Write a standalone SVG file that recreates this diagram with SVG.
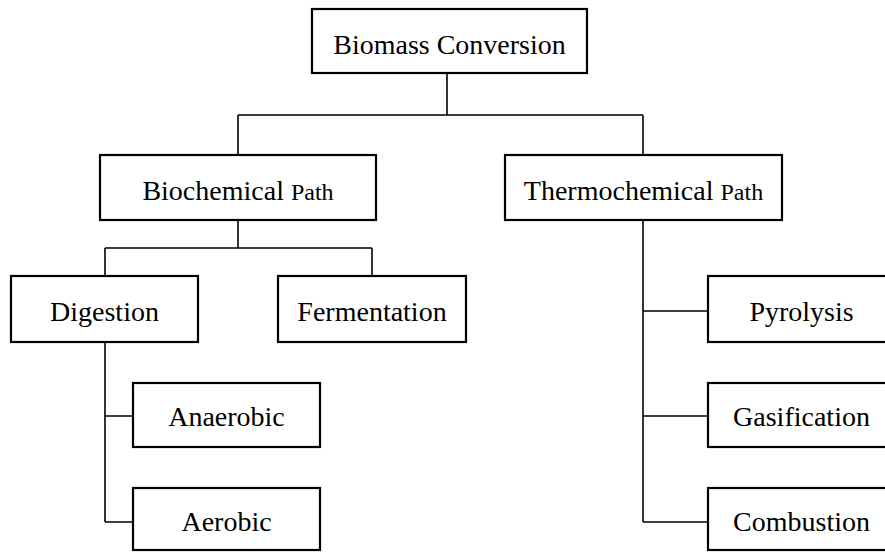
<svg xmlns="http://www.w3.org/2000/svg" width="885" height="552" viewBox="0 0 885 552">
  <style>
    .box { fill: #ffffff; stroke: #000000; stroke-width: 2.2; }
    .link { fill: none; stroke: #000000; stroke-width: 1.6; }
    .label { font-family: "Liberation Serif", "Times New Roman", serif; font-size: 28px; fill: #000000; text-anchor: middle; }
    .small { font-size: 24px; }
  </style>
  <rect width="885" height="552" fill="#ffffff"/>

  <!-- connectors -->
  <g id="connectors">
    <path class="link" d="M447 73 V115 M238 115 H643 M238 115 V155 M643 115 V155"/>
    <path class="link" d="M238 220 V248 M105 248 H372 M105 248 V276 M372 248 V276"/>
    <path class="link" d="M105 342 V522 M105 416 H133 M105 522 H133"/>
    <path class="link" d="M643 220 V522 M643 311 H708 M643 416 H708 M643 522 H708"/>
  </g>

  <g id="biomass-conversion">
    <rect class="box" x="312" y="9" width="275" height="64"/>
    <text class="label" x="449.5" y="54">Biomass Conversion</text>
  </g>

  <g id="biochemical-path">
    <rect class="box" x="100" y="155" width="276" height="65"/>
    <text class="label" x="238" y="200">Biochemical <tspan class="small">Path</tspan></text>
  </g>

  <g id="thermochemical-path">
    <rect class="box" x="505" y="155" width="277" height="65"/>
    <text class="label" x="643.5" y="200">Thermochemical <tspan class="small">Path</tspan></text>
  </g>

  <g id="digestion">
    <rect class="box" x="11" y="276" width="187" height="66"/>
    <text class="label" x="104.5" y="321">Digestion</text>
  </g>

  <g id="fermentation">
    <rect class="box" x="278" y="276" width="188" height="66"/>
    <text class="label" x="372" y="321">Fermentation</text>
  </g>

  <g id="anaerobic">
    <rect class="box" x="133" y="383" width="187" height="64"/>
    <text class="label" x="226.5" y="426">Anaerobic</text>
  </g>

  <g id="aerobic">
    <rect class="box" x="133" y="488" width="187" height="62"/>
    <text class="label" x="226.5" y="531">Aerobic</text>
  </g>

  <g id="pyrolysis">
    <rect class="box" x="708" y="276" width="187" height="66"/>
    <text class="label" x="801.5" y="321">Pyrolysis</text>
  </g>

  <g id="gasification">
    <rect class="box" x="708" y="383" width="187" height="64"/>
    <text class="label" x="801.5" y="426">Gasification</text>
  </g>

  <g id="combustion">
    <rect class="box" x="708" y="488" width="187" height="62"/>
    <text class="label" x="801.5" y="531">Combustion</text>
  </g>
</svg>
